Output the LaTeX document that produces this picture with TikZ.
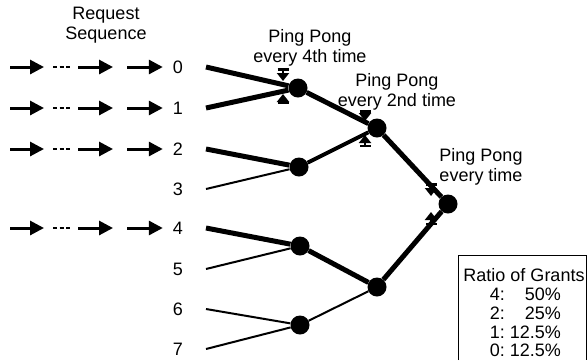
\documentclass[tikz,border=0pt]{standalone}
\usepackage{fontspec}
\setmainfont{Liberation Sans}
\usetikzlibrary{arrows.meta}

\newcommand{\lbl}{\fontsize{18}{19.5}\selectfont}

\tikzset{
  arb/.style={circle, fill=black, inner sep=0pt, minimum size=19pt},
  req/.style={line width=3pt, -{Triangle[length=14pt,width=14pt]}},
  dots/.style={line width=2.5pt, dash pattern=on 4pt off 2.5pt},
  heavy/.style={line width=5pt},
  mid/.style={line width=4pt},
  light/.style={line width=2pt},
  pingpong/.style={line width=2pt, {Bar[width=11pt,line width=2.5pt]}-{Triangle[length=8pt,width=12pt]}},
  txt/.style={font=\lbl, align=center, inner sep=0pt},
}

\begin{document}
\begin{tikzpicture}[x=1pt,y=-1pt]
\useasboundingbox (0,0) rectangle (588,360);

\node[txt] (head) at (106,25) {Request\\Sequence};

% requester inputs
\foreach \i/\y in {0/67,1/108,2/149,3/189,4/228,5/269,6/309,7/349} {
  \node[txt] (r\i) at (178,\y) {\i};
  \coordinate (in\i) at (206,\y);
}

% queued requests
\foreach \i/\y in {0/67,1/108,2/149,4/228} {
  \draw[req] (10,\y) -- (44,\y);
  \draw[dots] (53,\y) -- (71,\y);
  \draw[req] (78,\y) -- (113,\y);
  \draw[req] (127,\y) -- ([xshift=-10pt]r\i.west);
}

% arbiter tree
\node[arb] (n01) at (298,88) {};
\node[arb] (n23) at (299,167) {};
\node[arb] (n45) at (300,246) {};
\node[arb] (n67) at (300,325) {};
\node[arb] (n03) at (377,128) {};
\node[arb] (n47) at (377,287) {};
\node[arb] (root) at (448,204) {};

\draw[heavy] (in0) -- (n01);
\draw[heavy] (in1) -- (n01);
\draw[heavy] (in2) -- (n23);
\draw[light] (in3) -- (n23);
\draw[heavy] (in4) -- (n45);
\draw[light] (in5) -- (n45);
\draw[light] (in6) -- (n67);
\draw[light] (in7) -- (n67);

\draw[heavy] (n01) -- (n03);
\draw[mid] (n23) -- (n03);
\draw[heavy] (n45) -- (n47);
\draw[light] (n67) -- (n47);
\draw[heavy] (n03) -- (root);
\draw[heavy] (n47) -- (root);

% ping pong switches
\draw[pingpong] (283,68) -- (283,81);
\draw[pingpong] (283,104) -- (283,94);
\draw[pingpong] (365,110) -- (365,121);
\draw[pingpong] (365,147) -- (365,135);
\draw[pingpong] (431,183) -- (431,196);
\draw[pingpong] (431,225) -- (431,212);

\node[txt] (pp4) at (310,48) {Ping Pong\\every 4th time};
\node[txt] (pp2) at (397,92) {Ping Pong\\every 2nd time};
\node[txt] (pp1) at (481,167) {Ping Pong\\every time};

% grant ratios
\draw[line width=1pt] (458,360) |- (586.5,255) -- (586.5,360);
\node[txt] (ratio) at (524,275) {Ratio of Grants};
\foreach \k/\p/\y in {4/50/294,2/25/313,1/12.5/332,0/12.5/350} {
  \node[txt, anchor=east] (k\k) at (505,\y) {\k:};
  \node[txt, anchor=east] (p\k) at (561,\y) {\p\%};
}
\end{tikzpicture}
\end{document}
